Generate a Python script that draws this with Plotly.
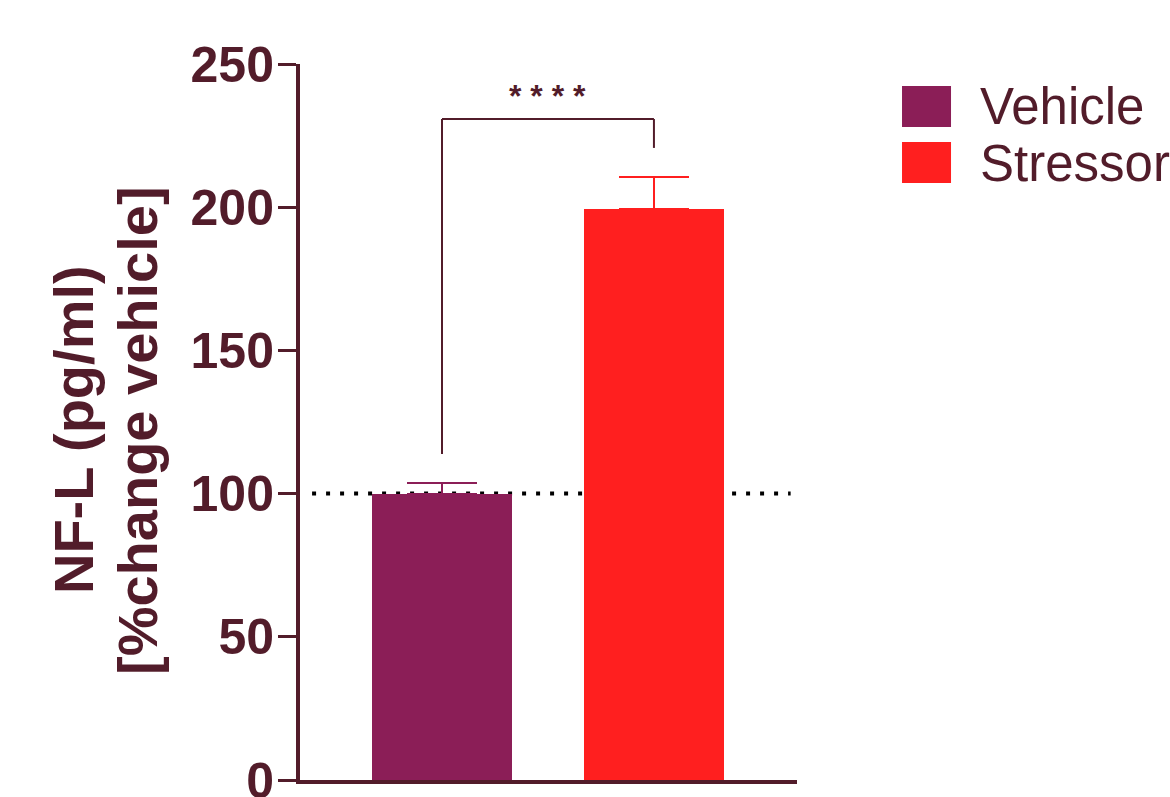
import plotly.graph_objects as go

# Group names, means and upper SEM (NF-L, % change relative to vehicle)
groups = ["Vehicle", "Stressor"]
means = [100.0, 199.5]
sem_upper = [3.6, 11.2]
colors = ["#8B1E57", "#FF1F1F"]

# Y axis ticks
y_ticks = [0, 50, 100, 150, 200, 250]

# Y axis title, one entry per line
y_title_lines = ["NF-L (pg/ml)", "[%change vehicle]"]

# Significance bracket (data units) and label
bracket_left_bottom = 113.8
bracket_top = 230.8
bracket_right_bottom = 220.7
sig_label = "* * * *"

baseline = 100

INK = "#521C2A"
FONT = "Liberation Sans, Arial, sans-serif"

xpos = [i + 1 for i in range(len(groups))]

fig = go.Figure()
for x, g, m, e, c in zip(xpos, groups, means, sem_upper, colors):
    fig.add_trace(go.Bar(
        x=[x], y=[m], name=g, width=0.66,
        marker=dict(color=c, line=dict(width=0)),
        error_y=dict(type="data", array=[e], arrayminus=[0], symmetric=False,
                     color=c, thickness=2, width=35),
        showlegend=False,
    ))

# Dotted reference line at 100 %
fig.add_shape(type="line", xref="x", yref="y", x0=0.387, x1=2.645,
              y0=baseline, y1=baseline, layer="below",
              line=dict(color="black", width=4, dash="4px,10px"))

# Significance bracket
bl = dict(color=INK, width=2)
fig.add_shape(type="line", x0=xpos[0], x1=xpos[0], y0=bracket_left_bottom, y1=bracket_top, line=bl)
fig.add_shape(type="line", x0=xpos[0], x1=xpos[1], y0=bracket_top, y1=bracket_top, line=bl)
fig.add_shape(type="line", x0=xpos[1], x1=xpos[1], y0=bracket_right_bottom, y1=bracket_top, line=bl)
fig.add_annotation(x=(xpos[0] + xpos[1]) / 2, y=bracket_top + 8, text=sig_label,
                   showarrow=False, xanchor="center", yanchor="middle",
                   font=dict(family=FONT, size=32, color=INK, weight="bold"))

# Y axis title (two rotated lines)
for xp, line in zip([-0.4567, -0.3280], y_title_lines):
    fig.add_annotation(xref="paper", yref="paper", x=xp, y=0.4888,
                       text=line, textangle=-90,
                       showarrow=False, xanchor="center", yanchor="middle",
                       font=dict(family=FONT, size=56, color=INK, weight="bold"))

# Legend built from squares and labels
leg_rows = [(0.9693, 0.9120, 0.9413), (0.8911, 0.8338, 0.8617)]
for (top, bot, mid), g, c in zip(leg_rows, groups, colors):
    fig.add_shape(type="rect", xref="paper", yref="paper", x0=1.2113, x1=1.3099,
                  y0=bot, y1=top, fillcolor=c, line=dict(width=0))
    fig.add_annotation(xref="paper", yref="paper", x=1.3642, y=mid, text=g,
                       showarrow=False, xanchor="left", yanchor="middle",
                       font=dict(family=FONT, size=51, color=INK))

fig.update_layout(
    width=1170, height=797,
    margin=dict(l=300, r=373, t=64, b=17, autoexpand=False),
    paper_bgcolor="white", plot_bgcolor="white",
    bargap=0,
    xaxis=dict(range=[0.330, 2.675], showline=True, linewidth=4, linecolor=INK,
               showticklabels=False, ticks="", showgrid=False, zeroline=False,
               automargin=False),
    yaxis=dict(range=[0, 250], tickvals=y_ticks, showline=True, linewidth=4,
               linecolor=INK, ticks="outside", ticklen=18, tickwidth=3, tickcolor=INK,
               showgrid=False, zeroline=False, ticklabelstandoff=-6,
               ticklabeloverflow="allow", automargin=False,
               tickfont=dict(family=FONT, size=50, color=INK, weight="bold")),
)

fig.write_html("out.html")
